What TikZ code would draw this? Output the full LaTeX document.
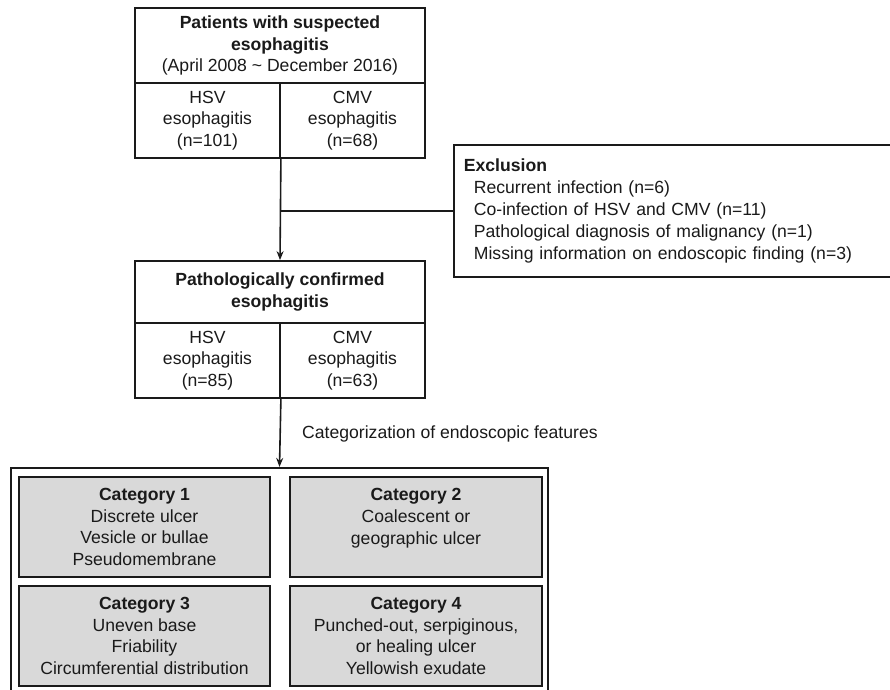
\documentclass[tikz,border=0pt]{standalone}
\usepackage{fontspec}
\setmainfont{Liberation Sans}
\usetikzlibrary{arrows.meta}
\definecolor{linec}{HTML}{1A1A1A}
\definecolor{txtc}{HTML}{1A1A1A}
\definecolor{catfill}{HTML}{D9D9D9}
\begin{document}
\begin{tikzpicture}[x=1pt,y=-1pt,
  every node/.style={font=\fontsize{17.6pt}{21.8pt}\selectfont, text=txtc},
  boxc/.style={draw=linec, line width=1.8pt, inner sep=0pt, align=center},
  cell/.style={boxc, minimum width=145pt, minimum height=75pt},
  head/.style={boxc, minimum width=290pt},
  catbox/.style={draw=linec, line width=1.8pt, fill=catfill, inner sep=0pt, align=center, minimum height=100pt},
  conn/.style={draw=linec, line width=1.6pt},
  arr/.style={conn, -{Stealth[length=9pt,width=7pt]}}
]
\useasboundingbox (0,0) rectangle (890,689);
\fill[white] (0,0) rectangle (890,689);

% first block
\node[head, minimum height=75pt] (hdr1) at (280,45.5)
  {\textbf{Patients with suspected}\\\textbf{esophagitis}\\(April 2008 \char`\~{} December 2016)};
\node[cell] (hsv1) at (207.5,120.5) {HSV\\esophagitis\\(n=101)};
\node[cell] (cmv1) at (352.5,120.5) {CMV\\esophagitis\\(n=68)};

% exclusion
\node[draw=linec, line width=1.8pt, anchor=west, minimum height=132pt, text width=440pt,
      inner xsep=10pt, inner ysep=0pt, align=left] (excl) at (453,211)
  {\textbf{Exclusion}\\
   \hspace*{10pt}Recurrent infection (n=6)\\
   \hspace*{10pt}Co-infection of HSV and CMV (n=11)\\
   \hspace*{10pt}Pathological diagnosis of malignancy (n=1)\\
   \hspace*{10pt}Missing information on endoscopic finding (n=3)};

% second block
\node[head, minimum height=62pt] (hdr2) at (280,292)
  {\textbf{Pathologically confirmed}\\\textbf{esophagitis}};
\node[cell] (hsv2) at (207.5,360.5) {HSV\\esophagitis\\(n=85)};
\node[cell] (cmv2) at (352.5,360.5) {CMV\\esophagitis\\(n=63)};

% categories
\node[draw=linec, line width=2.2pt, minimum width=537pt, minimum height=227pt, inner sep=0pt] (outer) at (279.5,581.5) {};
\node[catbox, minimum width=251pt] (c1) at (144.5,527)
  {\textbf{Category 1}\\Discrete ulcer\\Vesicle or bullae\\Pseudomembrane};
\node[catbox, minimum width=252pt] (c2) at (416,527)
  {\textbf{Category 2}\\Coalescent or\\geographic ulcer\\\mbox{}};
\node[catbox, minimum width=251pt] (c3) at (144.5,636)
  {\textbf{Category 3}\\Uneven base\\Friability\\Circumferential distribution};
\node[catbox, minimum width=252pt] (c4) at (416,636)
  {\textbf{Category 4}\\Punched-out, serpiginous,\\or healing ulcer\\Yellowish exudate};

\node[anchor=west, inner sep=0pt] (catlab) at (302,434) {Categorization of endoscopic features};

% connectors
\draw[arr] (hsv1.south east) -- (hdr2.north);
\draw[conn] (excl.west) -- (excl.west -| hsv1.south east);
\draw[arr] (hsv2.south east) -- (outer.north);
\end{tikzpicture}
\end{document}
